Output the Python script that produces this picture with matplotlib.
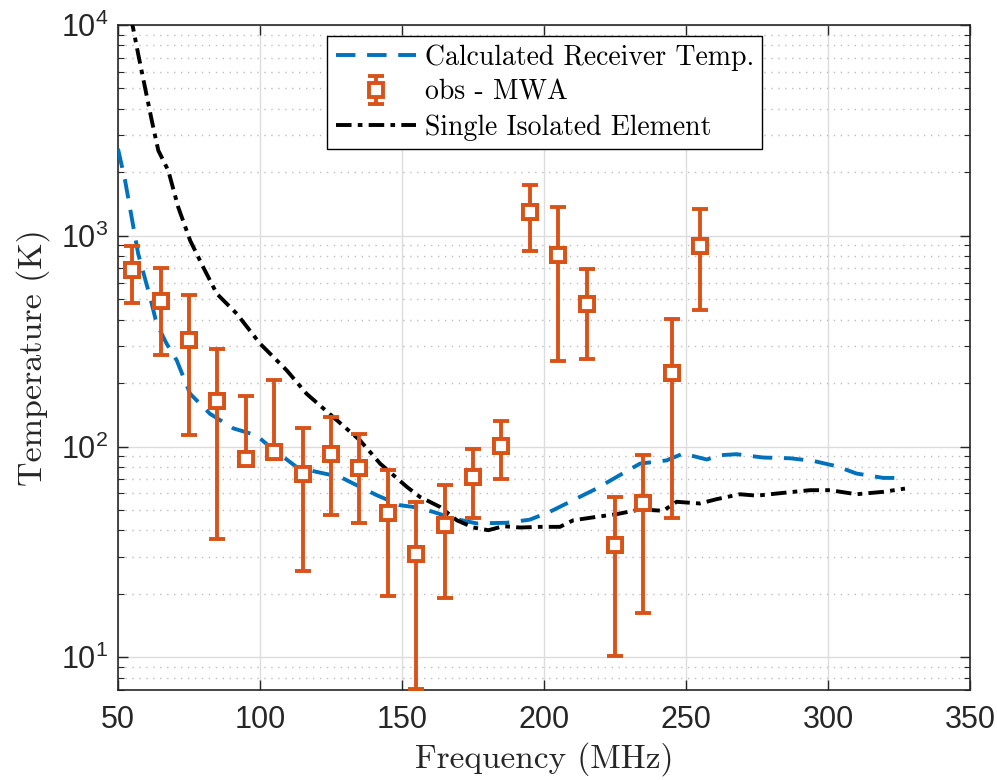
import matplotlib
matplotlib.use('Agg')
import matplotlib.pyplot as plt
from matplotlib.ticker import LogLocator, NullFormatter, FixedLocator
import numpy as np

plt.rcParams['font.family'] = ['Liberation Sans', 'DejaVu Sans']
plt.rcParams['axes.unicode_minus'] = False

# 计算接收机温度 (蓝色虚线)
f_calc = [50, 52.5, 54.8, 57.1, 61.3, 63.6, 67.1, 70.7, 75.4, 82.4, 90.6, 98.8, 103.5,
          112.9, 120, 128.2, 134, 141.1, 149.3, 154, 161, 168, 176.3, 186.9, 195, 202,
          210.3, 218.5, 225.6, 233.8, 243.2, 249, 257.3, 262, 267.8, 277.2, 286.6,
          294.8, 303, 310, 319.5, 327.1]
t_calc = [2585, 1828, 1225, 822, 512, 383, 308, 256, 178, 143, 122, 113, 99.6,
          80, 75.8, 71.8, 65.6, 58.8, 52.7, 51.7, 49, 45.6, 43.2, 43.5, 45, 49,
          55.7, 63.2, 71.8, 83, 86, 92.7, 86.8, 91, 92, 88.7, 88,
          85.5, 80.7, 74.5, 71, 71]

# 单个孤立单元 (黑色点划线)
f_single = [54.5, 57.1, 59.5, 61.9, 64.2, 67.7, 71.2, 75.4, 80, 84.8, 91.8, 100, 109.4,
            116.4, 125.8, 135.2, 142.3, 151.7, 156.3, 163.4, 169.3, 175.1, 180.4, 185.7,
            191.5, 198.6, 205.6, 210.3, 218.5, 225.6, 233.8, 242, 246.7, 254.9, 260.8,
            269, 274.9, 284.2, 293.7, 300.7, 310, 319.5, 327.1]
t_single = [11000, 7290, 5060, 3518, 2537, 2039, 1367, 950, 710, 531, 427, 308, 230,
            178, 138, 107, 83, 64.4, 57.7, 51.7, 44.7, 41.3, 40.1, 41.9,
            41.3, 41.6, 41.6, 44.7, 46.4, 47.8, 50.3, 49.6, 54.7, 53.7, 56.3,
            59.4, 58.5, 60.3, 62.1, 62.1, 59.4, 61, 63.2]

# MWA 观测点及误差范围 (下限为 nan 表示下限不可画)
f_obs = [55, 65, 75, 85, 95, 105, 115, 125, 135, 145, 155, 165, 175, 185,
         195, 205, 215, 225, 235, 245, 255]
t_obs = [690, 489, 319, 164, 87.4, 94.3, 74.5, 92.7, 79.5, 48.5, 30.9, 42.4, 71.8, 101,
         1294, 813, 476, 34.0, 53.7, 224, 893]
t_hi = [893, 705, 521, 289, 174, 208, 122.5, 138, 115, 77.8, 54.6, 65.6, 97.9, 132,
        1745, 1367, 692, 57.7, 90.9, 401, 1342]
t_lo = [481, 271, 114, 36.4, np.nan, np.nan, 25.7, 47.3, 43.6, 19.5, 7.05, 19.2, 45.6, 69.8,
        845, 255, 261, 10.2, 16.2, 45.9, 443]

blue = '#0072BD'
orange = '#D95319'
dark = '#262626'

fig = plt.figure(figsize=(9.97, 7.80), dpi=100)
ax = fig.add_axes([118 / 997, 1 - 690 / 780, 852 / 997, 665 / 780])

ln_calc, = ax.plot(f_calc, t_calc, color=blue, lw=2.8, linestyle=(0, (5, 3)),
                   label='Calculated Receiver Temp.', zorder=3)

x = np.array(f_obs, dtype=float)
y = np.array(t_obs, dtype=float)
hi = np.array(t_hi, dtype=float)
lo = np.array(t_lo, dtype=float)
eb = ax.errorbar(x, y, yerr=[y - lo, hi - y], fmt='s', color=orange, ecolor=orange,
                 elinewidth=2.8, capsize=5.8, capthick=2.8, markersize=10.5,
                 markeredgewidth=2.8, markerfacecolor='white', label='obs - MWA', zorder=4)
# 下限缺失的点只画上半段
part = np.isnan(lo)
ax.vlines(x[part], y[part], hi[part], color=orange, lw=2.8, zorder=3.9)
ax.plot(x, y, 's', ms=10.5, mew=2.8, mfc='white', mec=orange, ls='none', zorder=5)

ln_single, = ax.plot(f_single, t_single, color='black', lw=2.8,
                     linestyle=(0, (4, 1.6, 1.2, 1.6)), label='Single Isolated Element', zorder=3.5)

ax.set_yscale('log')
ax.set_xlim(50, 350)
ax.set_ylim(7, 1e4)
ax.xaxis.set_major_locator(FixedLocator([50, 100, 150, 200, 250, 300, 350]))
ax.yaxis.set_major_locator(LogLocator(base=10, numticks=10))
ax.yaxis.set_minor_locator(LogLocator(base=10, subs=np.arange(2, 10), numticks=20))
ax.yaxis.set_minor_formatter(NullFormatter())

ax.grid(which='major', color='#dcdcdc', lw=1.0, ls='-')
ax.grid(which='minor', axis='y', color='#bdbdbd', lw=1.0, ls=(0, (1, 4)))
ax.set_axisbelow(True)

ax.tick_params(which='both', direction='in', top=True, right=True, colors=dark,
               labelsize=22)
ax.tick_params(which='major', length=7, width=1)
ax.tick_params(which='minor', length=4, width=0.8)
ax.tick_params(axis='x', pad=11)
ax.tick_params(axis='y', pad=7)
for s in ax.spines.values():
    s.set_color(dark)
    s.set_linewidth(1.2)

ax.set_xlabel('Frequency (MHz)', fontfamily='cmr10', fontsize=24, color=dark, labelpad=5)
ax.set_ylabel('Temperature (K)', fontfamily='cmr10', fontsize=24.5, color=dark, labelpad=8)

leg = ax.legend(handles=[ln_calc, eb, ln_single], loc='upper left',
                bbox_to_anchor=(0.2457, 0.983), borderaxespad=0, fancybox=False,
                framealpha=1, edgecolor='black', prop={'family': 'cmr10', 'size': 20},
                handlelength=2.9, handletextpad=0.3, labelspacing=0.3, borderpad=0.3)
leg.get_frame().set_linewidth(1.0)

fig.savefig('out.png', dpi=100)
